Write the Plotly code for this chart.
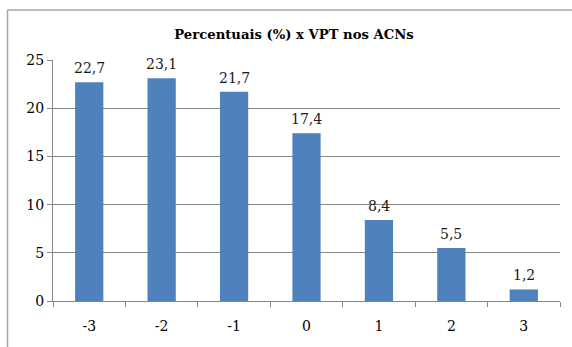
import plotly.graph_objects as go

categories = ["-3", "-2", "-1", "0", "1", "2", "3"]
percentuais = [22.7, 23.1, 21.7, 17.4, 8.4, 5.5, 1.2]
y_ticks = [0, 5, 10, 15, 20, 25]

W, H = 572, 347
L, R, T, B = 53, 12, 60, 46
pw, ph = W - L - R, H - T - B

def px_x(x):
    return (x - L) / pw

def px_y(y):
    return (H - B - y) / ph

serif = "DejaVu Serif"

fig = go.Figure(
    go.Bar(
        x=categories,
        y=percentuais,
        marker=dict(color="#4F81BD", line=dict(width=0)),
        hoverinfo="x+y",
    )
)

# value labels above each bar (category index position), decimal comma
for idx, val in enumerate(percentuais):
    fig.add_annotation(
        x=idx, y=val, xref="x", yref="y",
        text=f"{val:.1f}".replace(".", ","),
        showarrow=False, yanchor="bottom", yshift=4,
        font=dict(family=serif, size=14, color="#1a1a1a"),
    )

# outer chart frame (extends past the right and bottom edges of the page)
frame = dict(type="line", xref="paper", yref="paper",
             line=dict(color="#a6a6a6", width=1.5), layer="below")
fig.add_shape(**frame, x0=px_x(7.5), x1=px_x(7.5), y0=px_y(10), y1=px_y(360))
fig.add_shape(**frame, x0=px_x(7.5), x1=px_x(580), y0=px_y(10), y1=px_y(10))

fig.update_layout(
    width=W, height=H,
    margin=dict(l=L, r=R, t=T, b=B),
    paper_bgcolor="white", plot_bgcolor="white",
    separators=",.",
    bargap=0.61,
    showlegend=False,
    font=dict(family=serif),
    title=dict(
        text="<b>Percentuais (%) x VPT nos ACNs</b>",
        x=px_x(294), xref="paper", xanchor="center",
        y=1 - 34 / H, yanchor="middle",
        font=dict(family=serif, size=13.2, color="black"),
    ),
    xaxis=dict(
        type="category",
        categoryorder="array", categoryarray=categories,
        range=[-0.5, len(categories) - 0.5],
        tickson="boundaries", ticks="outside", ticklen=5, tickcolor="#868686",
        showline=True, linecolor="#868686", linewidth=1,
        showgrid=False,
        tickfont=dict(family=serif, size=14, color="black"),
        ticklabelstandoff=12,
    ),
    yaxis=dict(
        range=[0, 25], tickvals=y_ticks,
        ticks="outside", ticklen=5, tickcolor="#868686",
        showline=True, linecolor="#868686", linewidth=1,
        showgrid=True, gridcolor="#868686", gridwidth=1,
        zeroline=False,
        tickfont=dict(family=serif, size=14, color="black"),
    ),
)

fig.write_html("out.html")
